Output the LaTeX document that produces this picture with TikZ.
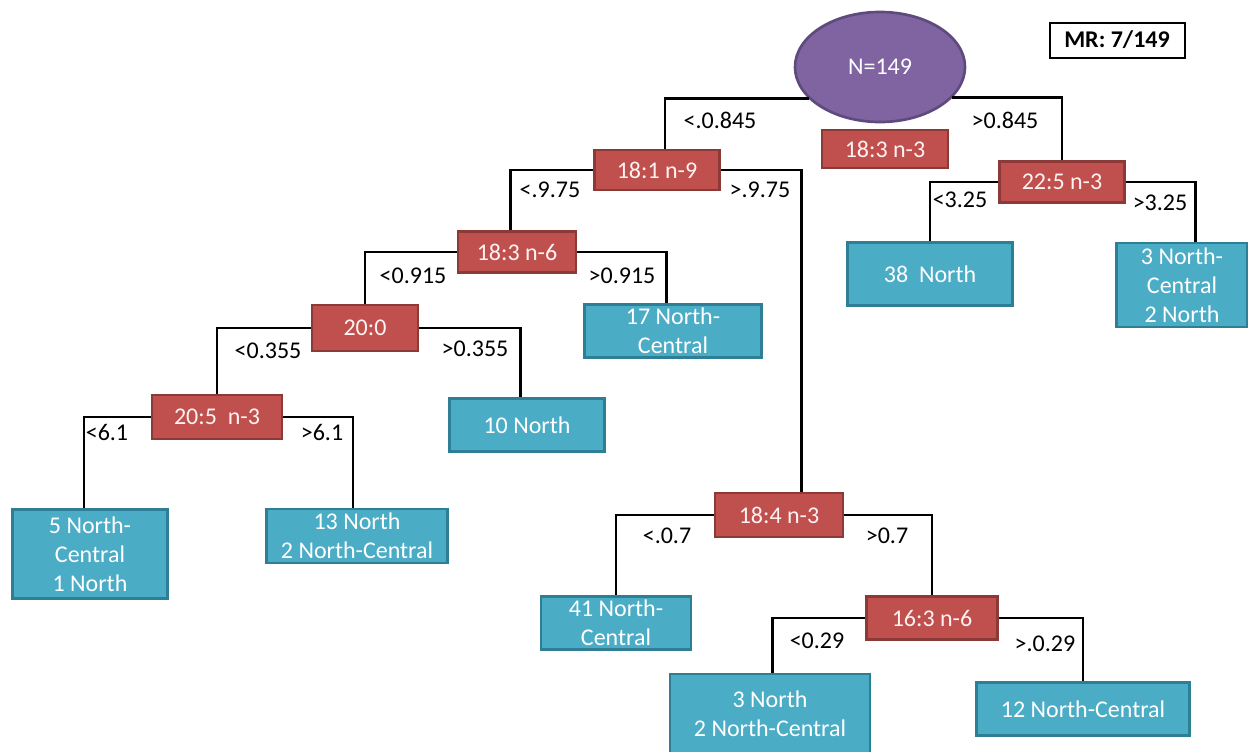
\documentclass[tikz,border=0pt]{standalone}
\usepackage{fontspec}
\setmainfont{Carlito}
\usetikzlibrary{shapes.geometric}
\definecolor{splitred}{HTML}{C0504D}
\definecolor{splitedge}{HTML}{8C3A38}
\definecolor{leafblue}{HTML}{4BACC6}
\definecolor{leafedge}{HTML}{2E7F96}
\definecolor{rootfill}{HTML}{8064A2}
\definecolor{rootedge}{HTML}{5E4A7C}
\begin{document}
\begin{tikzpicture}[x=0.75pt,y=-0.75pt,
  every node/.style={font=\fontsize{18}{21.6}\selectfont, inner sep=0pt, align=center},
  sz/.style 2 args={minimum width=#1*0.75pt, minimum height=#2*0.75pt},
  split/.style={rectangle, draw=splitedge, fill=splitred, line width=2pt, text=white!95!red},
  leaf/.style={rectangle, draw=leafedge, fill=leafblue, line width=2pt, text=white},
  cond/.style={text=black},
  link/.style={line width=1.9pt, black}]

\useasboundingbox (0,0) rectangle (1248,751);

% root and summary
\node[ellipse, draw=rootedge, fill=rootfill, line width=2pt, text=white, sz={170}{110}] (root) at (880,67) {N=149};
\node[draw=black, line width=1.5pt, sz={135}{35}, font=\fontsize{18}{21.6}\selectfont\bfseries] (mr) at (1117,40) {MR: 7/149};

% split nodes
\node[split, sz={126}{38}] (s0) at (885,149) {18:3 n-3};
\node[split, sz={125}{40}] (s1) at (657,170) {18:1 n-9};
\node[split, sz={125}{41}] (s2) at (1062,182) {22:5 n-3};
\node[split, sz={118}{41}] (s3) at (517,252) {18:3 n-6};
\node[split, sz={106}{46}] (s4) at (365,328) {20:0};
\node[split, sz={130}{44}] (s5) at (217,417) {20:5\ \ n-3};
\node[split, sz={128}{44}] (s6) at (779,515) {18:4 n-3};
\node[split, sz={131}{43}] (s7) at (932,618) {16:3 n-6};

% leaf nodes
\node[leaf, sz={165}{63}] (l38) at (930,274) {38\ \ North};
\node[leaf, sz={131}{84}] (l3nc) at (1182,285) {3 North-\\Central\\2 North};
\node[leaf, sz={177}{53}] (l17) at (673,331) {17 North-\\Central};
\node[leaf, sz={155}{53}] (l10) at (527,425) {10 North};
\node[leaf, sz={155}{89}] (l5) at (90,554) {5 North-\\Central\\1 North};
\node[leaf, sz={181}{54}] (l13) at (357,536) {13 North\\2 North-Central};
\node[leaf, sz={150}{53}] (l41) at (616,623) {41 North-\\Central};
\node[leaf, sz={200}{80}] (l3n) at (770,714) {3 North\\2 North-Central};
\node[leaf, sz={213}{53}] (l12) at (1083,709) {12 North-Central};

% connectors
\draw[link] (root.204) -| ([xshift=6pt]s1.north);
\draw[link] (root.-23) -| (s2.north);
\draw[link] (s1.west) -| ([xshift=-5pt]s3.north);
\draw[link] (s1.east) -| ([xshift=17pt]s6.north);
\draw[link] (s2.west) -| (l38.north);
\draw[link] (s2.east) -| ([xshift=10pt]l3nc.north);
\draw[link] (s3.west) -| (s4.north);
\draw[link] (s3.east) -| ([xshift=-5pt]l17.north);
\draw[link] (s4.west) -| (s5.north);
\draw[link] (s4.east) -| ([xshift=-5pt]l10.north);
\draw[link] (s5.west) -| ([xshift=-4.5pt]l5.north);
\draw[link] (s5.east) -| ([xshift=-3pt]l13.north);
\draw[link] (s6.west) -| (l41.north);
\draw[link] (s6.east) -| (s7.north);
\draw[link] (s7.west) -| ([xshift=2pt]l3n.north);
\draw[link] (s7.east) -| (l12.north);

% split conditions
\node[cond] (c1) at (720,120) {<.0.845};
\node[cond] (c2) at (1005,120) {>0.845};
\node[cond] (c3) at (960,200) {<3.25};
\node[cond] (c4) at (1160,203) {>3.25};
\node[cond] (c5) at (550,190) {<.9.75};
\node[cond] (c6) at (760,190) {>.9.75};
\node[cond] (c7) at (413,276) {<0.915};
\node[cond] (c8) at (622,276) {>0.915};
\node[cond] (c9) at (268,351) {<0.355};
\node[cond] (c10) at (475,349) {>0.355};
\node[cond] (c11) at (107,432) {<6.1};
\node[cond] (c12) at (322,432) {>6.1};
\node[cond] (c13) at (667,536) {<.0.7};
\node[cond] (c14) at (887,536) {>0.7};
\node[cond] (c15) at (817,641) {<0.29};
\node[cond] (c16) at (1045,644) {>.0.29};
\end{tikzpicture}
\end{document}
